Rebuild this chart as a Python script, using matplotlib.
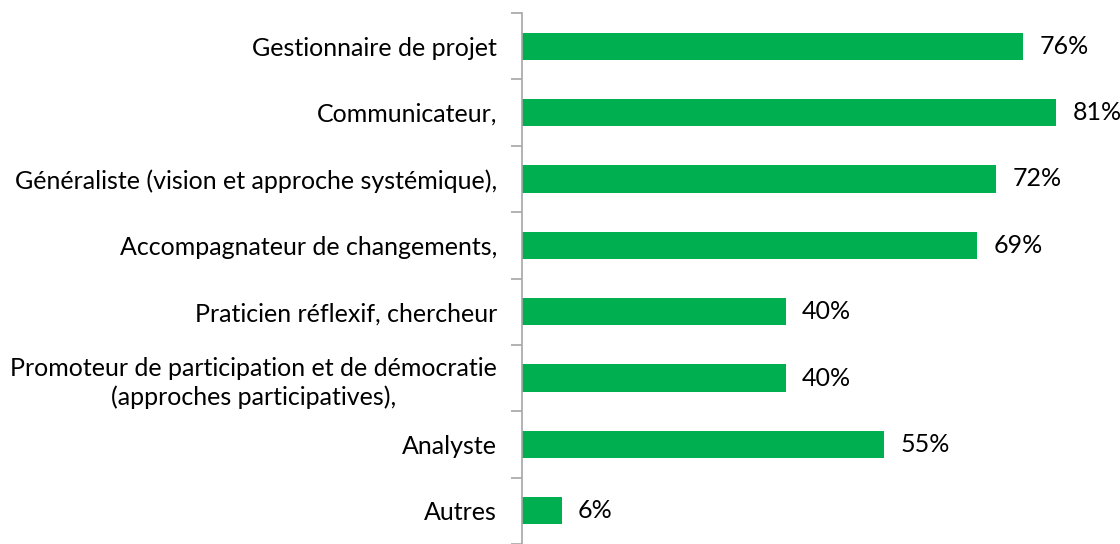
import matplotlib
matplotlib.use("Agg")
import matplotlib.pyplot as plt
import numpy as np

categories = [
    "Gestionnaire de projet",
    "Communicateur,",
    "Généraliste (vision et approche systémique),",
    "Accompagnateur de changements,",
    "Praticien réflexif, chercheur",
    "Promoteur de participation et de démocratie\n(approches participatives),",
    "Analyste",
    "Autres",
]
values = [76, 81, 72, 69, 40, 40, 55, 6]

plt.rcParams['font.family'] = ['Lato', 'DejaVu Sans']

fig = plt.figure(figsize=(11.2, 5.44), dpi=100)
ax = fig.add_axes([522 / 1120, 0, 1 - 522 / 1120, 1 - 13 / 544])

y = np.arange(len(categories))
ax.barh(y, values, height=0.41, color="#00B050")

for yi, v in zip(y, values):
    ax.text(v + 2.5, yi, f"{v}%", va="center", ha="left", fontsize=18, color="black")

ax.set_xlim(0, (1120 - 522) / 6.59)
ax.set_ylim(len(categories) - 0.5, -0.5)

ax.set_yticks(y)
ax.set_yticklabels(categories, fontsize=18, color="black", linespacing=1.3,
                   multialignment="center")
ax.tick_params(axis="y", which="major", length=0, pad=18)
ax.set_yticks(np.arange(len(categories) + 1) - 0.5, minor=True)
ax.tick_params(axis="y", which="minor", length=8, color="#A6A6A6", width=1.2)
ax.set_xticks([])

for s in ["top", "right", "bottom"]:
    ax.spines[s].set_visible(False)
ax.spines["left"].set_color("#A6A6A6")
ax.spines["left"].set_linewidth(1.2)

fig.savefig("out.png", dpi=100)
